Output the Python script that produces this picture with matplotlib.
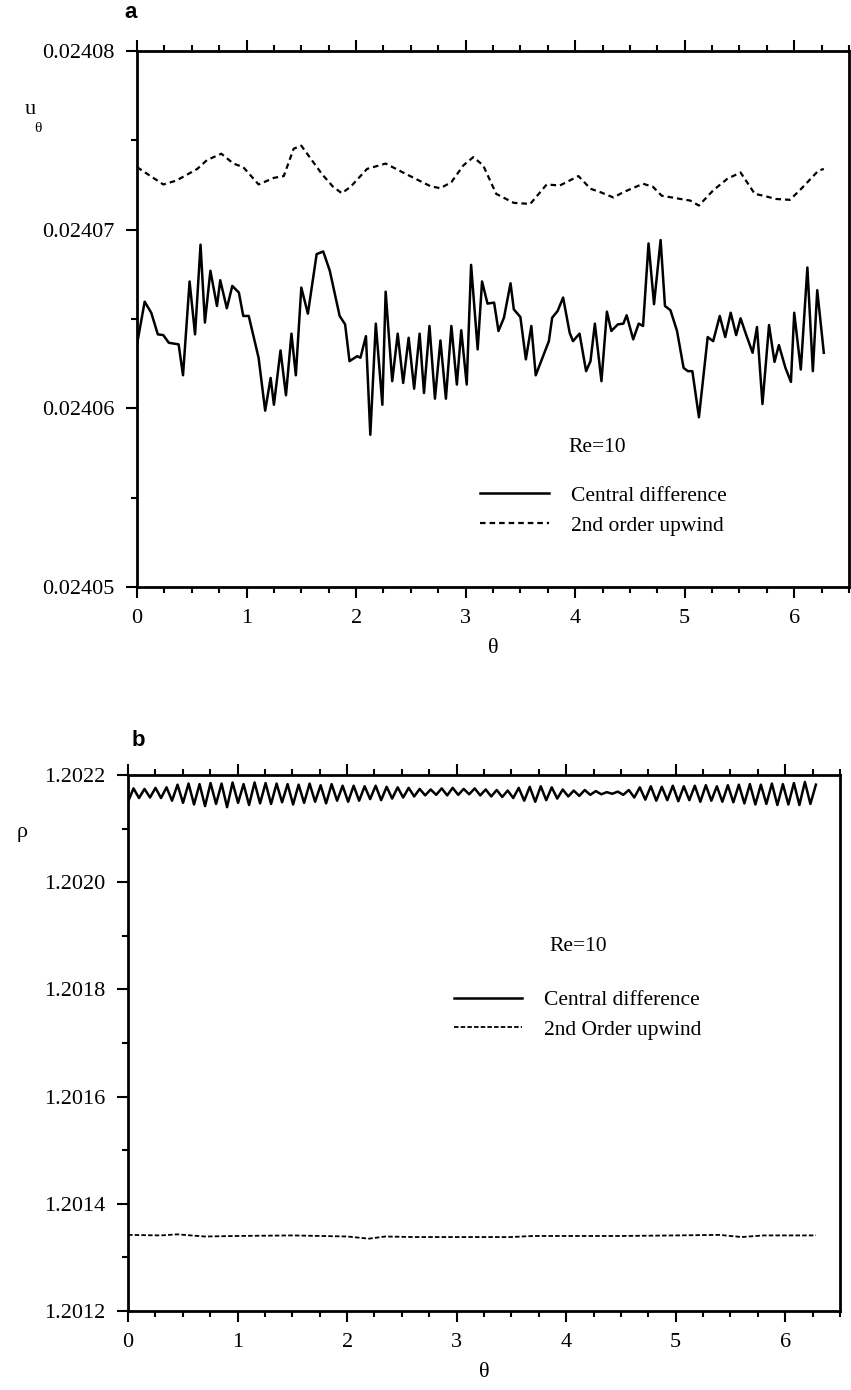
import numpy as np
import matplotlib
matplotlib.use("Agg")
import matplotlib.pyplot as plt
from matplotlib.ticker import MultipleLocator, FormatStrFormatter

plt.rcParams['font.family'] = ['Liberation Serif', 'DejaVu Serif']

# ---- panel a: u_theta vs theta ----
theta_cd_a = [0.00, 0.07, 0.13, 0.19, 0.24, 0.29, 0.38, 0.42, 0.48, 0.53, 0.58, 0.62, 0.67, 0.73,
              0.76, 0.82, 0.87, 0.93, 0.97, 1.02, 1.11, 1.17, 1.22, 1.25, 1.31, 1.36, 1.41, 1.45,
              1.50, 1.56, 1.64, 1.70, 1.76, 1.85, 1.90, 1.94, 2.01, 2.04, 2.09, 2.13, 2.18, 2.24,
              2.27, 2.33, 2.38, 2.43, 2.48, 2.53, 2.58, 2.62, 2.67, 2.72, 2.77, 2.82, 2.87, 2.92,
              2.96, 3.01, 3.05, 3.11, 3.15, 3.20, 3.26, 3.30, 3.35, 3.41, 3.44, 3.50, 3.55, 3.60,
              3.64, 3.76, 3.79, 3.84, 3.89, 3.95, 3.98, 4.04, 4.10, 4.14, 4.18, 4.24, 4.29, 4.33,
              4.39, 4.44, 4.47, 4.53, 4.58, 4.62, 4.67, 4.72, 4.78, 4.82, 4.87, 4.93, 4.99, 5.03,
              5.07, 5.13, 5.21, 5.26, 5.32, 5.37, 5.42, 5.47, 5.51, 5.56, 5.62, 5.66, 5.71, 5.77,
              5.82, 5.86, 5.92, 5.97, 6.00, 6.06, 6.12, 6.17, 6.21, 6.27]
u_cd_a = [0.02406358, 0.02406597, 0.02406535, 0.02406414, 0.02406410, 0.02406367, 0.02406358,
          0.02406185, 0.02406710, 0.02406414, 0.02406916, 0.02406480, 0.02406770, 0.02406573,
          0.02406717, 0.02406560, 0.02406685, 0.02406648, 0.02406517, 0.02406517, 0.02406283,
          0.02405987, 0.02406170, 0.02406020, 0.02406324, 0.02406073, 0.02406418, 0.02406185,
          0.02406676, 0.02406530, 0.02406863, 0.02406878, 0.02406770, 0.02406517, 0.02406470,
          0.02406264, 0.02406292, 0.02406283, 0.02406404, 0.02405852, 0.02406474, 0.02406020,
          0.02406653, 0.02406152, 0.02406418, 0.02406142, 0.02406395, 0.02406110, 0.02406418,
          0.02406086, 0.02406461, 0.02406054, 0.02406380, 0.02406054, 0.02406461, 0.02406133,
          0.02406437, 0.02406133, 0.02406803, 0.02406330, 0.02406710, 0.02406586, 0.02406592,
          0.02406433, 0.02406507, 0.02406700, 0.02406554, 0.02406511, 0.02406274, 0.02406461,
          0.02406185, 0.02406376, 0.02406507, 0.02406545, 0.02406620, 0.02406423, 0.02406376,
          0.02406418, 0.02406208, 0.02406264, 0.02406474, 0.02406152, 0.02406541, 0.02406433,
          0.02406470, 0.02406474, 0.02406521, 0.02406386, 0.02406474, 0.02406461, 0.02406923,
          0.02406583, 0.02406942, 0.02406573, 0.02406549, 0.02406433, 0.02406226, 0.02406208,
          0.02406208, 0.02405950, 0.02406399, 0.02406376, 0.02406517, 0.02406399, 0.02406535,
          0.02406410, 0.02406504, 0.02406414, 0.02406311, 0.02406455, 0.02406024, 0.02406466,
          0.02406260, 0.02406354, 0.02406226, 0.02406148, 0.02406535, 0.02406217, 0.02406788,
          0.02406208, 0.02406661, 0.02406311]

theta_up_a = [0.00, 0.24, 0.36, 0.55, 0.64, 0.77, 0.88, 0.97, 1.11, 1.25, 1.34, 1.43, 1.50, 1.69,
              1.79, 1.87, 1.95, 2.10, 2.27, 2.46, 2.68, 2.77, 2.87, 2.98, 3.07, 3.16, 3.28, 3.44,
              3.59, 3.74, 3.86, 4.03, 4.14, 4.23, 4.35, 4.44, 4.62, 4.71, 4.79, 4.96, 5.05, 5.13,
              5.26, 5.39, 5.51, 5.64, 5.72, 5.83, 5.96, 6.05, 6.22, 6.27]
u_up_a = [0.02407350, 0.02407253, 0.02407275, 0.02407340, 0.02407390, 0.02407425, 0.02407370,
          0.02407350, 0.02407253, 0.02407290, 0.02407300, 0.02407453, 0.02407470, 0.02407310,
          0.02407240, 0.02407204, 0.02407240, 0.02407340, 0.02407370, 0.02407310, 0.02407243,
          0.02407232, 0.02407266, 0.02407360, 0.02407406, 0.02407360, 0.02407200, 0.02407150,
          0.02407144, 0.02407253, 0.02407247, 0.02407300, 0.02407229, 0.02407210, 0.02407180,
          0.02407210, 0.02407257, 0.02407240, 0.02407190, 0.02407172, 0.02407163, 0.02407135,
          0.02407220, 0.02407285, 0.02407320, 0.02407200, 0.02407190, 0.02407172, 0.02407167,
          0.02407220, 0.02407330, 0.02407340]

# ---- panel b: rho vs theta ----
theta_b = np.linspace(0, 6.28, 126)
rho_cd_b = [1.202150, 1.202175, 1.202157, 1.202174, 1.202158, 1.202176, 1.202157, 1.202177,
            1.202152, 1.202182, 1.202148, 1.202184, 1.202145, 1.202183, 1.202142, 1.202185,
            1.202146, 1.202184, 1.202140, 1.202186, 1.202148, 1.202183, 1.202144, 1.202186,
            1.202147, 1.202185, 1.202146, 1.202184, 1.202149, 1.202183, 1.202145, 1.202182,
            1.202148, 1.202184, 1.202150, 1.202181, 1.202147, 1.202183, 1.202152, 1.202180,
            1.202150, 1.202180, 1.202152, 1.202179, 1.202155, 1.202180, 1.202153, 1.202178,
            1.202156, 1.202177, 1.202158, 1.202176, 1.202160, 1.202174, 1.202162, 1.202173,
            1.202163, 1.202175, 1.202162, 1.202176, 1.202163, 1.202174, 1.202164, 1.202175,
            1.202162, 1.202173, 1.202160, 1.202172, 1.202159, 1.202171, 1.202157, 1.202176,
            1.202152, 1.202178, 1.202150, 1.202179, 1.202153, 1.202177, 1.202156, 1.202173,
            1.202160, 1.202171, 1.202161, 1.202172, 1.202163, 1.202170, 1.202164, 1.202168,
            1.202165, 1.202169, 1.202163, 1.202172, 1.202158, 1.202177, 1.202154, 1.202179,
            1.202152, 1.202178, 1.202153, 1.202180, 1.202151, 1.202179, 1.202153, 1.202180,
            1.202150, 1.202181, 1.202152, 1.202179, 1.202150, 1.202181, 1.202149, 1.202182,
            1.202147, 1.202183, 1.202145, 1.202182, 1.202146, 1.202184, 1.202144, 1.202183,
            1.202145, 1.202185, 1.202144, 1.202187, 1.202146, 1.202182]
theta_up_b = [0.00, 0.30, 0.45, 0.70, 1.00, 1.50, 2.00, 2.20, 2.35, 2.60, 3.00, 3.50, 3.70, 4.00,
              4.50, 5.00, 5.40, 5.60, 5.80, 6.28]
rho_up_b = [1.201342, 1.201341, 1.201343, 1.201339, 1.201340, 1.201341, 1.201339, 1.201335,
            1.201339, 1.201338, 1.201338, 1.201338, 1.201340, 1.201340, 1.201340, 1.201341,
            1.201342, 1.201338, 1.201341, 1.201341]

W, H = 851, 1390
fig = plt.figure(figsize=(W / 100, H / 100), dpi=100)


def make_axes(left, right, top, bottom):
    return fig.add_axes([left / W, 1 - bottom / H, (right - left) / W, (bottom - top) / H])


def style(ax):
    for s in ax.spines.values():
        s.set_linewidth(2.0)
    ax.set_xlim(0, 6.5)
    ax.xaxis.set_major_locator(MultipleLocator(1))
    ax.xaxis.set_minor_locator(MultipleLocator(0.25))
    ax.tick_params(which='both', direction='out', top=True, right=False, labelsize=16,
                   width=1.5)
    ax.tick_params(which='major', length=8, pad=8)
    ax.tick_params(which='minor', length=4)
    ax.set_xlabel('θ', fontsize=16, labelpad=8)


# panel a
ax1 = make_axes(137, 849, 51, 587)
ax1.plot(theta_cd_a, u_cd_a, color='black', lw=1.8, label='Central difference')
ax1.plot(theta_up_a, u_up_a, color='black', lw=1.6, ls=(0, (2.5, 1.8)), label='2nd order upwind')
ax1.set_ylim(0.02405, 0.02408)
ax1.yaxis.set_major_locator(MultipleLocator(0.00001))
ax1.yaxis.set_minor_locator(MultipleLocator(0.000005))
ax1.yaxis.set_major_formatter(FormatStrFormatter('%.5f'))
style(ax1)
ax1.text(3.94, 0.0240578, 'Re=10', fontsize=15.5, va='center')
ax1.legend(loc='upper left', bbox_to_anchor=(0.455, 0.225), frameon=False, fontsize=15.5,
           handlelength=3.2, handletextpad=1.0, labelspacing=0.45)
fig.text(0.153, 1 - 12 / H, 'a', family='Liberation Sans', weight='bold', fontsize=16,
         ha='center', va='center')
fig.text(30 / W, 1 - 110 / H, 'u', fontsize=16, ha='center', va='center')
fig.text(38 / W, 1 - 128 / H, 'θ', fontsize=11, ha='center', va='center')

# panel b
ax2 = make_axes(128, 840, 775, 1311)
ax2.plot(theta_b, rho_cd_b, color='black', lw=1.8, label='Central difference')
ax2.plot(theta_up_b, rho_up_b, color='black', lw=1.3, ls=(0, (2.5, 1.2)), label='2nd Order upwind')
ax2.set_ylim(1.2012, 1.2022)
ax2.yaxis.set_major_locator(MultipleLocator(0.0002))
ax2.yaxis.set_minor_locator(MultipleLocator(0.0001))
ax2.yaxis.set_major_formatter(FormatStrFormatter('%.4f'))
style(ax2)
ax2.text(3.85, 1.20188, 'Re=10', fontsize=15.5, va='center')
ax2.legend(loc='upper left', bbox_to_anchor=(0.43, 0.635), frameon=False, fontsize=15.5,
           handlelength=3.2, handletextpad=1.0, labelspacing=0.45)
fig.text(138 / W, 1 - 740 / H, 'b', family='Liberation Sans', weight='bold', fontsize=16,
         ha='center', va='center')
fig.text(22 / W, 1 - 832 / H, 'ρ', fontsize=16, ha='center', va='center')

fig.savefig('out.png', dpi=100)
